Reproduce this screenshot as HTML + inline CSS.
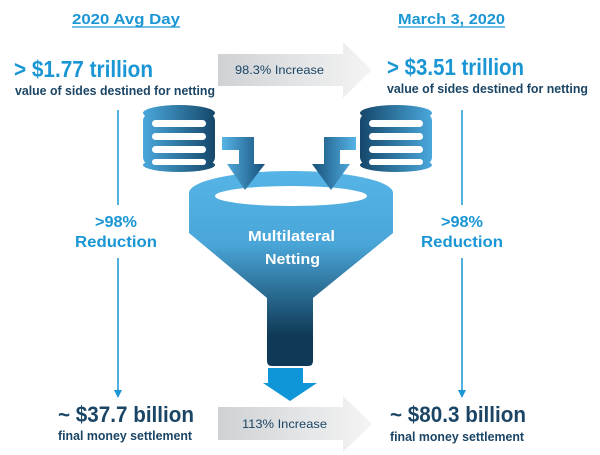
<!DOCTYPE html>
<html><head><meta charset="utf-8"><style>
html,body{margin:0;padding:0;background:#fff;}
svg{display:block;font-family:"Liberation Sans",Arial,sans-serif;font-weight:bold;}
</style></head><body>
<svg width="600" height="455" viewBox="0 0 600 455" xmlns="http://www.w3.org/2000/svg">
<defs>
<linearGradient id="ga" x1="0" y1="0" x2="1" y2="0">
<stop offset="0" stop-color="#cfd2d5"/><stop offset="1" stop-color="#f4f4f4"/></linearGradient>
<linearGradient id="fun" gradientUnits="userSpaceOnUse" x1="0" y1="170" x2="0" y2="335">
<stop offset="0" stop-color="#56b4e6"/><stop offset="0.45" stop-color="#4aa6d8"/><stop offset="1" stop-color="#0f3a57"/></linearGradient>
<linearGradient id="db" x1="0" y1="0" x2="1" y2="0">
<stop offset="0" stop-color="#4aa8dc"/><stop offset="1" stop-color="#15476a"/></linearGradient>
<linearGradient id="db2" x1="0" y1="0" x2="1" y2="0">
<stop offset="0" stop-color="#15476a"/><stop offset="1" stop-color="#4aa8dc"/></linearGradient>
<linearGradient id="ar1" x1="0" y1="0" x2="1" y2="0">
<stop offset="0" stop-color="#56b4e6"/><stop offset="1" stop-color="#17507a"/></linearGradient>
<linearGradient id="ar2" x1="0" y1="0" x2="1" y2="0">
<stop offset="0" stop-color="#17507a"/><stop offset="1" stop-color="#56b4e6"/></linearGradient>
</defs>

<text x="72" y="24" font-size="15" fill="#1a96d4" textLength="108" lengthAdjust="spacingAndGlyphs">2020 Avg Day</text>
<line x1="72" y1="27" x2="180" y2="27" stroke="#1a96d4" stroke-width="1.3"/>
<text x="398" y="24" font-size="15" fill="#1a96d4" textLength="107" lengthAdjust="spacingAndGlyphs">March 3, 2020</text>
<line x1="398" y1="27" x2="505" y2="27" stroke="#1a96d4" stroke-width="1.3"/>

<text x="14" y="77" font-size="23" fill="#1a96d4" textLength="139" lengthAdjust="spacingAndGlyphs">&gt; $1.77 trillion</text>
<text x="15" y="95" font-size="12.5" fill="#1b4565" textLength="200" lengthAdjust="spacingAndGlyphs">value of sides destined for netting</text>
<text x="387" y="75" font-size="23" fill="#1a96d4" textLength="137" lengthAdjust="spacingAndGlyphs">&gt; $3.51 trillion</text>
<text x="387" y="93" font-size="12.5" fill="#1b4565" textLength="201" lengthAdjust="spacingAndGlyphs">value of sides destined for netting</text>

<polygon points="218,54 343,54 343,42 372,70 343,98 343,86 218,86" fill="url(#ga)"/>
<text x="235" y="74" font-size="12" font-weight="normal" fill="#1b4565" textLength="89" lengthAdjust="spacingAndGlyphs">98.3% Increase</text>

<polygon points="218,407 343,407 343,396 372,424 343,452 343,440 218,440" fill="url(#ga)"/>
<text x="242" y="428" font-size="12" font-weight="normal" fill="#1b4565" textLength="85" lengthAdjust="spacingAndGlyphs">113% Increase</text>

<text x="58" y="422" font-size="22" fill="#1b4565" textLength="136" lengthAdjust="spacingAndGlyphs">~ $37.7 billion</text>
<text x="58" y="440" font-size="12.5" fill="#1b4565" textLength="134" lengthAdjust="spacingAndGlyphs">final money settlement</text>
<text x="390" y="422" font-size="22" fill="#1b4565" textLength="136" lengthAdjust="spacingAndGlyphs">~ $80.3 billion</text>
<text x="390" y="441" font-size="12.5" fill="#1b4565" textLength="134" lengthAdjust="spacingAndGlyphs">final money settlement</text>

<g stroke="#1a96d4" stroke-width="1.5">
<line x1="118" y1="110" x2="118" y2="205"/><line x1="118" y1="258" x2="118" y2="392"/>
<line x1="462" y1="110" x2="462" y2="205"/><line x1="462" y1="258" x2="462" y2="392"/>
</g>
<polygon points="114,390 122,390 118,398" fill="#1a96d4"/>
<polygon points="458,390 466,390 462,398" fill="#1a96d4"/>
<text x="95" y="227" font-size="16" fill="#1a96d4" textLength="42" lengthAdjust="spacingAndGlyphs">&gt;98%</text>
<text x="75" y="247" font-size="16" fill="#1a96d4" textLength="82" lengthAdjust="spacingAndGlyphs">Reduction</text>
<text x="441" y="227" font-size="16" fill="#1a96d4" textLength="42" lengthAdjust="spacingAndGlyphs">&gt;98%</text>
<text x="421" y="247" font-size="16" fill="#1a96d4" textLength="82" lengthAdjust="spacingAndGlyphs">Reduction</text>

<!-- funnel -->
<path d="M189,193 A102,22 0 0 1 393,193 L393,233 L313,298 L313,361 Q313,366 308,366 L272,366 Q267,366 267,361 L267,298 L189,233 Z" fill="url(#fun)"/>
<ellipse cx="291" cy="196" rx="76" ry="10" fill="#fff"/>
<text x="248" y="241" font-size="15" fill="#fff" textLength="87" lengthAdjust="spacingAndGlyphs">Multilateral</text>
<text x="265" y="264" font-size="15" fill="#fff" textLength="55" lengthAdjust="spacingAndGlyphs">Netting</text>
<polygon points="268,368 303,368 303,383 317,383 290,401 263,383 268,383" fill="#0e96d8"/>

<!-- down arrows -->
<polygon points="222,137 254,137 254,164 265,164 245,190 227,164 239,164 239,150 222,150" fill="url(#ar1)"/>
<polygon points="356,137 324,137 324,164 312,164 331,190 350,164 340,164 340,150 356,150" fill="url(#ar2)"/>

<!-- databases -->
<g>
<rect x="143" y="113" width="72" height="52" rx="8" fill="url(#db)"/>
<ellipse cx="179" cy="113" rx="36" ry="8" fill="url(#db)"/>
<ellipse cx="179" cy="165" rx="36" ry="7" fill="url(#db)"/>
<g fill="#fff"><rect x="152" y="120" width="54" height="7" rx="3.5"/><rect x="152" y="133" width="54" height="7" rx="3.5"/><rect x="152" y="146" width="54" height="7" rx="3.5"/><rect x="152" y="159" width="54" height="6" rx="3"/></g>
</g>
<g>
<rect x="360" y="113" width="72" height="52" rx="8" fill="url(#db2)"/>
<ellipse cx="396" cy="113" rx="36" ry="8" fill="url(#db2)"/>
<ellipse cx="396" cy="165" rx="36" ry="7" fill="url(#db2)"/>
<g fill="#fff"><rect x="369" y="120" width="54" height="7" rx="3.5"/><rect x="369" y="133" width="54" height="7" rx="3.5"/><rect x="369" y="146" width="54" height="7" rx="3.5"/><rect x="369" y="159" width="54" height="6" rx="3"/></g>
</g>
</svg>
</body></html>
